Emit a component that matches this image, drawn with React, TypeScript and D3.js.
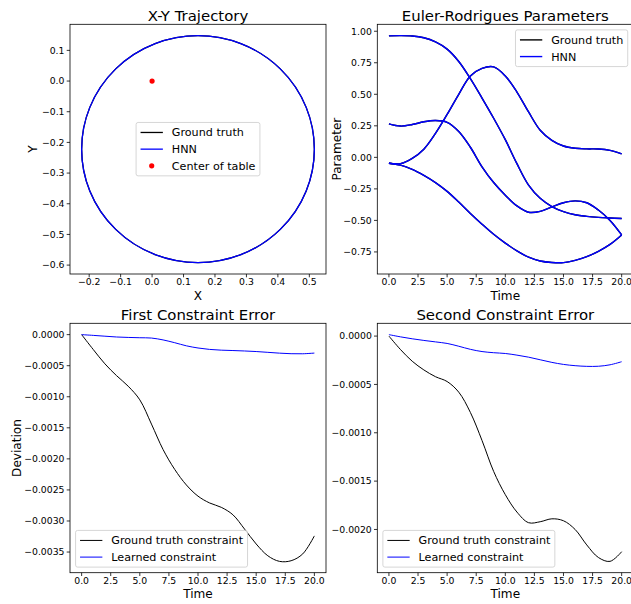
import React from 'react';
import * as d3 from 'd3';

// ---- data ----
const time = [0, 1, 2, 3, 4, 5, 6, 7, 8, 9, 10, 11, 12, 13, 14, 15, 16, 17, 18, 19, 20];

// X-Y trajectory: circle centre / radius (ground truth and HNN coincide)
const truthCenter = [0.146, -0.222];
const truthRadius = 0.37;
const hnnCenter = [0.146, -0.222];
const hnnRadius = 0.37;
const tableCenter = [0, 0];

// Euler-Rodrigues parameters
const e0 = [0.963, 0.965, 0.962, 0.948, 0.915, 0.858, 0.76, 0.624, 0.47, 0.31, 0.14, -0.05, -0.22, -0.325, -0.39, -0.43, -0.455, -0.468, -0.476, -0.481, -0.485];
const e1 = [-0.047, -0.05, -0.008, 0.065, 0.19, 0.34, 0.5, 0.645, 0.705, 0.717, 0.645, 0.518, 0.36, 0.215, 0.135, 0.09, 0.072, 0.067, 0.066, 0.055, 0.027];
const e2 = [0.266, 0.248, 0.26, 0.282, 0.292, 0.278, 0.205, 0.08, -0.075, -0.2, -0.3, -0.385, -0.435, -0.428, -0.393, -0.36, -0.345, -0.36, -0.418, -0.5, -0.615];
const e3 = [-0.047, -0.062, -0.095, -0.143, -0.2, -0.27, -0.355, -0.445, -0.53, -0.61, -0.68, -0.742, -0.792, -0.822, -0.834, -0.835, -0.817, -0.787, -0.745, -0.69, -0.615];
const eulerSeries = [e0, e1, e2, e3];

// constraint errors
const firstTruth = [0, -0.00024, -0.00047, -0.00066, -0.00083, -0.00105, -0.00144, -0.00185, -0.00217, -0.00242, -0.0026, -0.00271, -0.00278, -0.0029, -0.00313, -0.00337, -0.00356, -0.00365, -0.00364, -0.00353, -0.00324];
const firstLearned = [0, -0.000012, -0.000025, -0.000038, -0.000045, -0.00005, -0.000055, -0.000085, -0.00013, -0.00018, -0.000215, -0.000238, -0.00025, -0.000256, -0.000263, -0.000272, -0.000285, -0.000298, -0.000307, -0.000308, -0.000297];
const secondTruth = [0, -0.00014, -0.00026, -0.00035, -0.00042, -0.00047, -0.00058, -0.00079, -0.00108, -0.0014, -0.00164, -0.00182, -0.00193, -0.00192, -0.00189, -0.00191, -0.002, -0.00216, -0.00229, -0.00233, -0.00223];
const secondLearned = [0.000015, -0.000008, -0.000028, -0.000045, -0.00006, -0.000076, -0.000105, -0.000137, -0.00016, -0.000172, -0.00018, -0.000197, -0.000218, -0.000245, -0.000272, -0.000293, -0.000306, -0.000313, -0.000312, -0.000297, -0.000265];

// tick values
const xyXTicks = [-0.2, -0.1, 0, 0.1, 0.2, 0.3, 0.4, 0.5];
const xyYTicks = [-0.6, -0.5, -0.4, -0.3, -0.2, -0.1, 0, 0.1];
const timeTicks = [0, 2.5, 5, 7.5, 10, 12.5, 15, 17.5, 20];
const paramTicks = [-0.75, -0.5, -0.25, 0, 0.25, 0.5, 0.75, 1];
const firstTicks = [-0.0035, -0.003, -0.0025, -0.002, -0.0015, -0.001, -0.0005, 0];
const secondTicks = [-0.002, -0.0015, -0.001, -0.0005, 0];

const FONT = '"DejaVu Sans", sans-serif';
const FS = { tick: 9.3, label: 12.1, title: 14.9, legend: 11.16 };

const fmt = (digits: number) => (d: number) =>
  (d < -1e-12 ? '\u2212' : '') + Math.abs(d).toFixed(digits);

const pad = (lo: number, hi: number): [number, number] => {
  const m = (hi - lo) * 0.05;
  return [lo - m, hi + m];
};

let ctx: CanvasRenderingContext2D | null = null;
const textWidth = (s: string, size: number) => {
  if (!ctx) ctx = document.createElement('canvas').getContext('2d');
  if (!ctx) return s.length * size * 0.6;
  ctx.font = `${size}px "DejaVu Sans"`;
  return ctx.measureText(s).width;
};

interface Box { left: number; right: number; top: number; bottom: number; }

interface AxesProps {
  box: Box;
  x: d3.ScaleLinear<number, number>;
  y: d3.ScaleLinear<number, number>;
  xTicks: number[];
  yTicks: number[];
  xFmt: (d: number) => string;
  yFmt: (d: number) => string;
  title: string;
  xLabel: string;
  yLabel?: string;
  yLabelOffset?: number;
  children?: React.ReactNode;
  legend?: React.ReactNode;
}

const Axes = ({ box, x, y, xTicks, yTicks, xFmt, yFmt, title, xLabel, yLabel, yLabelOffset = 36, children, legend }: AxesProps) => {
  const cx = (box.left + box.right) / 2;
  const cy = (box.top + box.bottom) / 2;
  return (
    <g>
      {children}
      <rect x={box.left} y={box.top} width={box.right - box.left} height={box.bottom - box.top}
        fill="none" stroke="#000" strokeWidth={0.8} />
      {xTicks.map((t) => (
        <g key={'x' + t}>
          <line x1={x(t)} x2={x(t)} y1={box.bottom} y2={box.bottom + 3.3} stroke="#000" strokeWidth={0.8} />
          <text x={x(t)} y={box.bottom + 11.1} textAnchor="middle" fontSize={FS.tick} fontFamily={FONT}>{xFmt(t)}</text>
        </g>
      ))}
      {yTicks.map((t) => (
        <g key={'y' + t}>
          <line x1={box.left - 3.3} x2={box.left} y1={y(t)} y2={y(t)} stroke="#000" strokeWidth={0.8} />
          <text x={box.left - 5.5} y={y(t) + 3.35} textAnchor="end" fontSize={FS.tick} fontFamily={FONT}>{yFmt(t)}</text>
        </g>
      ))}
      <text x={cx} y={box.top - 3} textAnchor="middle" fontSize={FS.title} fontFamily={FONT}>{title}</text>
      <text x={cx} y={box.bottom + 25.5} textAnchor="middle" fontSize={FS.label} fontFamily={FONT}>{xLabel}</text>
      {yLabel && (
        <text transform={`translate(${box.left - yLabelOffset},${cy}) rotate(-90)`} textAnchor="middle"
          fontSize={FS.label} fontFamily={FONT}>{yLabel}</text>
      )}
      {legend}
    </g>
  );
};

interface Entry { label: string; color: string; kind: 'line' | 'dot'; width?: number; }

const Legend = ({ box, loc, entries }: { box: Box; loc: 'center' | 'upper right' | 'lower left'; entries: Entry[] }) => {
  const fs = FS.legend;
  const bp = 0.4 * fs;
  const rowH = 11.1;
  const gap = 0.5 * fs;
  const handleLen = 2 * fs;
  const textPad = 0.8 * fs;
  const maxText = d3.max(entries, (e) => textWidth(e.label, fs)) || 0;
  const w = bp * 2 + handleLen + textPad + maxText;
  const h = bp * 2 + entries.length * rowH + (entries.length - 1) * gap;
  const axPad = 0.5 * fs;
  let x0 = box.left + axPad;
  let y0 = box.bottom - axPad - h;
  if (loc === 'center') {
    x0 = (box.left + box.right) / 2 - w / 2;
    y0 = (box.top + box.bottom) / 2 - h / 2;
  } else if (loc === 'upper right') {
    x0 = box.right - axPad - w;
    y0 = box.top + axPad;
  }
  return (
    <g>
      <rect x={x0} y={y0} width={w} height={h} rx={2} fill="#fff" fillOpacity={0.8} stroke="#cccccc" strokeWidth={0.8} />
      {entries.map((e, i) => {
        const ry = y0 + bp + rowH / 2 + i * (rowH + gap);
        const hx = x0 + bp;
        return (
          <g key={e.label}>
            {e.kind === 'line'
              ? <line x1={hx} x2={hx + handleLen} y1={ry} y2={ry} stroke={e.color} strokeWidth={e.width || 1.3} />
              : <circle cx={hx + handleLen / 2} cy={ry} r={2.6} fill={e.color} />}
            <text x={hx + handleLen + textPad} y={ry + 0.36 * fs} fontSize={fs} fontFamily={FONT}>{e.label}</text>
          </g>
        );
      })}
    </g>
  );
};

const boxTL: Box = { left: 70, right: 326, top: 24.3, bottom: 274 };
const boxTR: Box = { left: 377.3, right: 633.3, top: 24.3, bottom: 274 };
const boxBL: Box = { left: 70, right: 326, top: 323.3, bottom: 572.7 };
const boxBR: Box = { left: 377.3, right: 633.3, top: 323.3, bottom: 572.7 };

export default function App() {
  // --- X-Y trajectory ---
  const xyX = d3.scaleLinear()
    .domain(pad(truthCenter[0] - truthRadius, truthCenter[0] + truthRadius))
    .range([boxTL.left, boxTL.right]);
  const xyY = d3.scaleLinear()
    .domain(pad(truthCenter[1] - truthRadius, truthCenter[1] + truthRadius))
    .range([boxTL.bottom, boxTL.top]);
  const circle = (c: number[], r: number, color: string) => (
    <ellipse cx={xyX(c[0])} cy={xyY(c[1])}
      rx={xyX(c[0] + r) - xyX(c[0])} ry={xyY(c[1]) - xyY(c[1] + r)}
      fill="none" stroke={color} strokeWidth={1.3} />
  );

  // --- time axes ---
  const timeRange = pad(d3.min(time)!, d3.max(time)!);
  const tR = d3.scaleLinear().domain(timeRange).range([boxTR.left, boxTR.right]);
  const tL = d3.scaleLinear().domain(timeRange).range([boxBL.left, boxBL.right]);

  const allEuler = eulerSeries.flat();
  const pY = d3.scaleLinear().domain(pad(d3.min(allEuler)!, d3.max(allEuler)!)).range([boxTR.bottom, boxTR.top]);

  const first = [...firstTruth, ...firstLearned];
  const c1Y = d3.scaleLinear().domain(pad(d3.min(first)!, d3.max(first)!)).range([boxBL.bottom, boxBL.top]);
  const second = [...secondTruth, ...secondLearned];
  const c2Y = d3.scaleLinear().domain(pad(d3.min(second)!, d3.max(second)!)).range([boxBR.bottom, boxBR.top]);

  const path = (xs: d3.ScaleLinear<number, number>, ys: d3.ScaleLinear<number, number>, vals: number[]) =>
    d3.line<number>()
      .x((_, i) => xs(time[i]))
      .y((v) => ys(v))
      .curve(d3.curveCatmullRom.alpha(0.5))(vals) || '';

  return (
    <div style={{ position: 'absolute', left: 0, top: 0 }}>
      <svg width={631} height={604} style={{ display: 'block', background: '#fff' }}>
        <Axes box={boxTL} x={xyX} y={xyY} xTicks={xyXTicks} yTicks={xyYTicks} xFmt={fmt(1)} yFmt={fmt(1)}
          title="X-Y Trajectory" xLabel="X" yLabel="Y" yLabelOffset={33.5}
          legend={<Legend box={boxTL} loc="center" entries={[
            { label: 'Ground truth', color: '#000', kind: 'line' },
            { label: 'HNN', color: 'blue', kind: 'line' },
            { label: 'Center of table', color: 'red', kind: 'dot' },
          ]} />}>
          {circle(truthCenter, truthRadius, '#000')}
          {circle(hnnCenter, hnnRadius, 'blue')}
          <circle cx={xyX(tableCenter[0])} cy={xyY(tableCenter[1])} r={2.6} fill="red" />
        </Axes>

        <Axes box={boxTR} x={tR} y={pY} xTicks={timeTicks} yTicks={paramTicks} xFmt={fmt(1)} yFmt={fmt(2)}
          title="Euler-Rodrigues Parameters" xLabel="Time" yLabel="Parameter" yLabelOffset={36}
          legend={<Legend box={boxTR} loc="upper right" entries={[
            { label: 'Ground truth', color: '#000', kind: 'line', width: 1.4 },
            { label: 'HNN', color: 'blue', kind: 'line', width: 1.4 },
          ]} />}>
          {eulerSeries.map((s, i) => (
            <path key={'gt' + i} d={path(tR, pY, s)} fill="none" stroke="#000" strokeWidth={1.4} />
          ))}
          {eulerSeries.map((s, i) => (
            <path key={'hnn' + i} d={path(tR, pY, s)} fill="none" stroke="blue" strokeWidth={1.4} />
          ))}
        </Axes>

        <Axes box={boxBL} x={tL} y={c1Y} xTicks={timeTicks} yTicks={firstTicks} xFmt={fmt(1)} yFmt={fmt(4)}
          title="First Constraint Error" xLabel="Time" yLabel="Deviation" yLabelOffset={49.5}
          legend={<Legend box={boxBL} loc="lower left" entries={[
            { label: 'Ground truth constraint', color: '#000', kind: 'line', width: 1 },
            { label: 'Learned constraint', color: 'blue', kind: 'line', width: 1 },
          ]} />}>
          <path d={path(tL, c1Y, firstTruth)} fill="none" stroke="#000" strokeWidth={1} />
          <path d={path(tL, c1Y, firstLearned)} fill="none" stroke="blue" strokeWidth={1} />
        </Axes>

        <Axes box={boxBR} x={tR} y={c2Y} xTicks={timeTicks} yTicks={secondTicks} xFmt={fmt(1)} yFmt={fmt(4)}
          title="Second Constraint Error" xLabel="Time"
          legend={<Legend box={boxBR} loc="lower left" entries={[
            { label: 'Ground truth constraint', color: '#000', kind: 'line', width: 1 },
            { label: 'Learned constraint', color: 'blue', kind: 'line', width: 1 },
          ]} />}>
          <path d={path(tR, c2Y, secondTruth)} fill="none" stroke="#000" strokeWidth={1} />
          <path d={path(tR, c2Y, secondLearned)} fill="none" stroke="blue" strokeWidth={1} />
        </Axes>
      </svg>
    </div>
  );
}
